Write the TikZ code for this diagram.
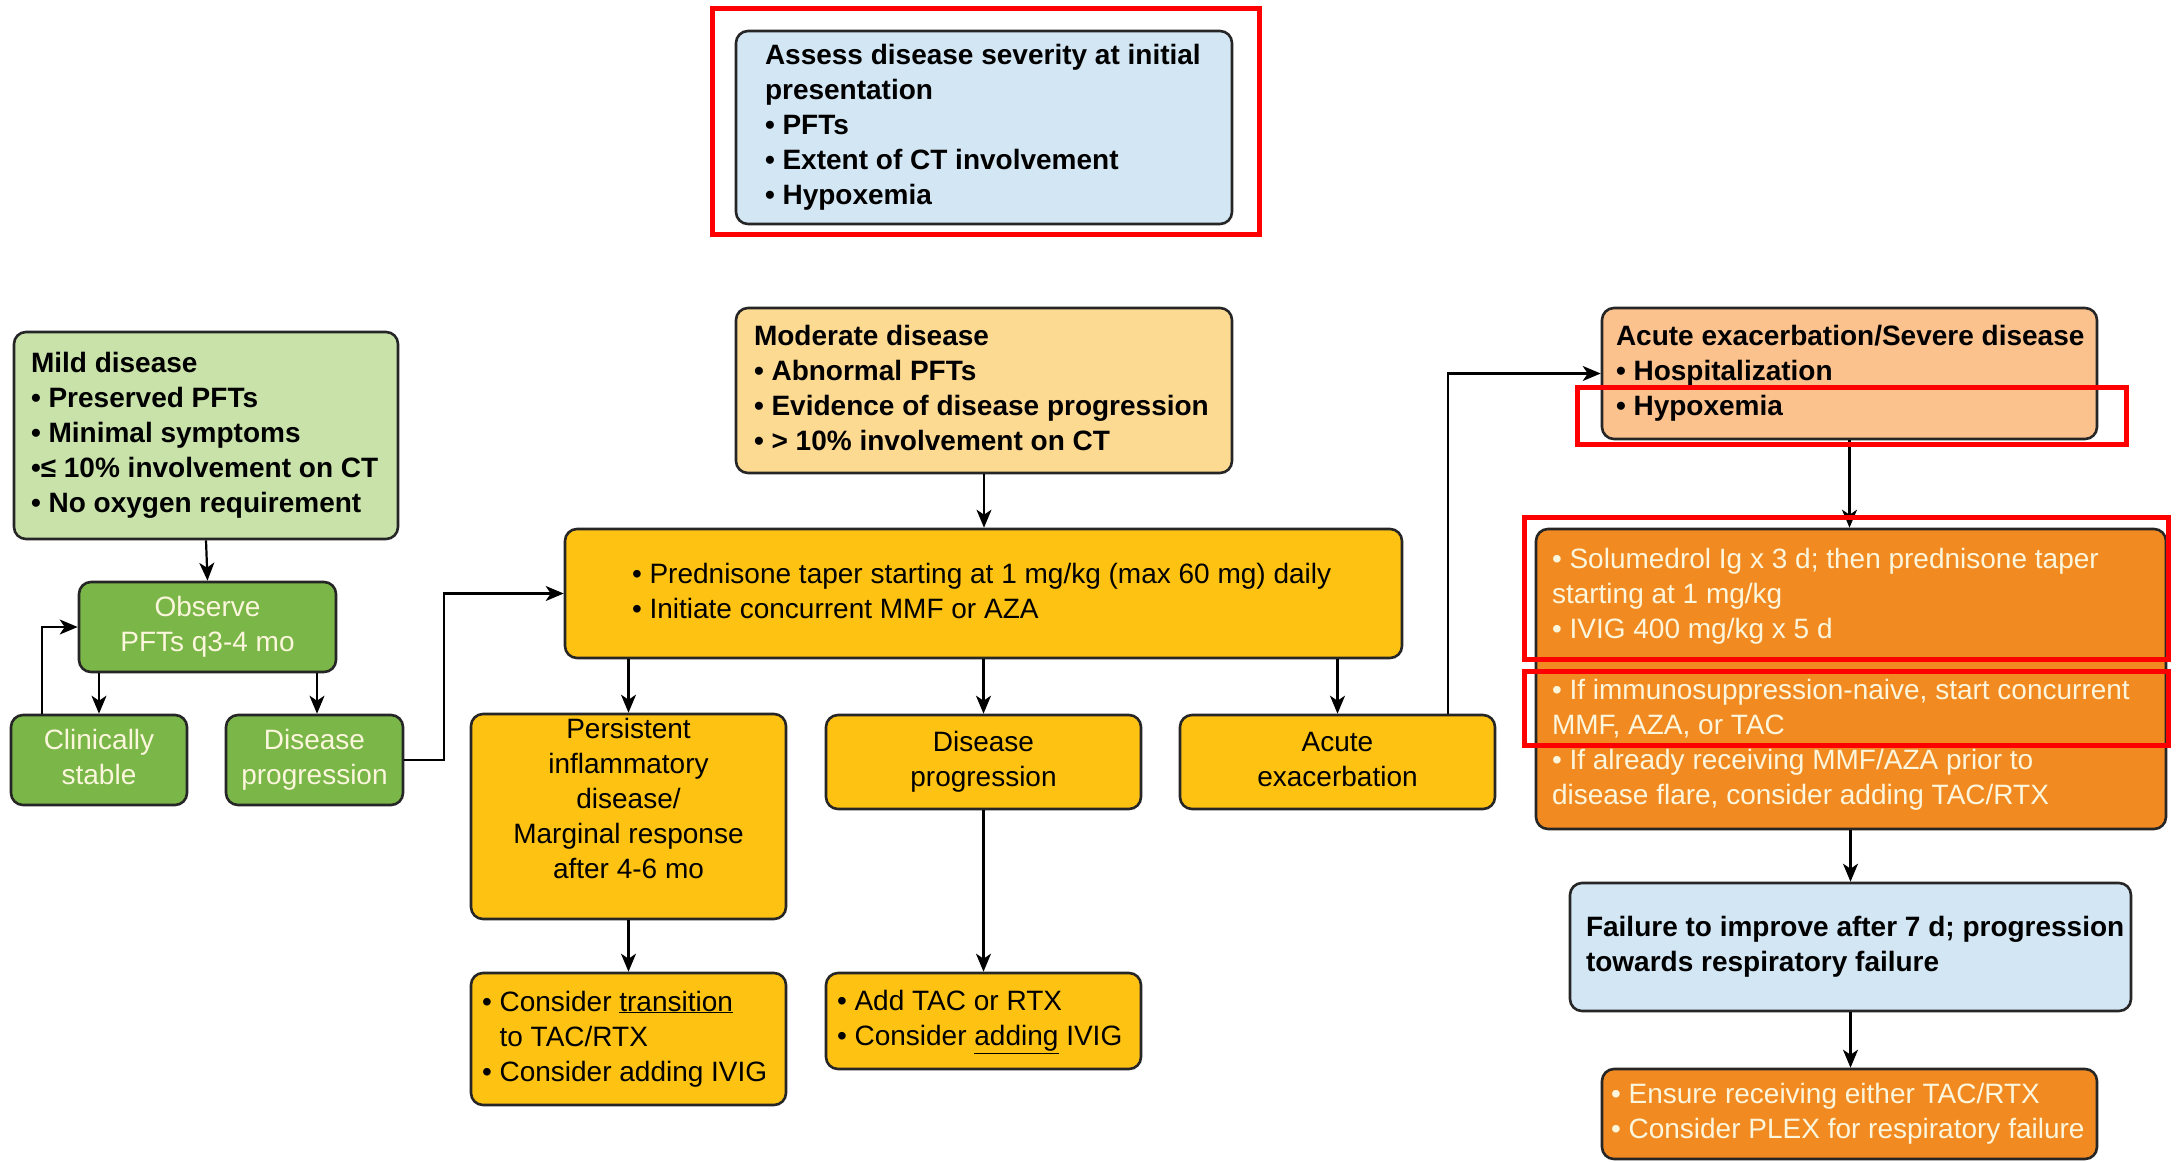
\documentclass[tikz,border=0pt]{standalone}
\usepackage{fontspec}
\setmainfont{Liberation Sans}
\usetikzlibrary{arrows.meta}
\definecolor{lblue}{HTML}{D3E6F4}
\definecolor{lgreen}{HTML}{C8E2AA}
\definecolor{mgreen}{HTML}{7AB648}
\definecolor{lamber}{HTML}{FDDA92}
\definecolor{amber}{HTML}{FEC213}
\definecolor{peach}{HTML}{FCC28E}
\definecolor{orng}{HTML}{F28A22}
\definecolor{cream}{HTML}{FBF6DC}
\newcommand{\lblk}[2]{\makebox[#1][l]{\begin{tabular}{@{}l@{}}#2\end{tabular}}}
\newcommand{\cblk}[1]{\begin{tabular}{@{}c@{}}#1\end{tabular}}
\begin{document}
\begin{tikzpicture}[x=1pt,y=-1pt,
  box/.style={draw=black!85, line width=2.6pt, rounded corners=12pt, inner sep=0pt,
    font=\fontsize{28}{35}\selectfont},
  bbox/.style={box, font=\fontsize{28}{35}\selectfont\bfseries},
  arr/.style={draw=black, line width=2.2pt, -{Stealth[length=18pt,width=15pt,inset=5pt]}},
  redbox/.style={draw=red, line width=5pt}]
\useasboundingbox (0,0) rectangle (2177,1162);

% top
\node[bbox, fill=lblue, minimum width=496pt, minimum height=193pt] (assess) at (984,127.5)
  {\lblk{438pt}{Assess disease severity at initial\\ presentation\\ • PFTs\\ • Extent of CT involvement\\ • Hypoxemia}};

% left column
\node[bbox, fill=lgreen, minimum width=384pt, minimum height=207pt] (mild) at (206,435.5)
  {\lblk{350pt}{Mild disease\\ • Preserved PFTs\\ • Minimal symptoms\\ •≤ 10\% involvement on CT\\ • No oxygen requirement}};
\node[box, fill=mgreen, text=cream, minimum width=257pt, minimum height=90pt] (observe) at (207.5,627)
  {\cblk{Observe\\ PFTs q3-4 mo}};
\node[box, fill=mgreen, text=cream, minimum width=176pt, minimum height=90pt] (stable) at (99,760)
  {\cblk{Clinically\\ stable}};
\node[box, fill=mgreen, text=cream, minimum width=177pt, minimum height=90pt] (dpg) at (314.5,760)
  {\cblk{Disease\\ progression}};

% middle
\node[bbox, fill=lamber, minimum width=496pt, minimum height=165pt] (moderate) at (984,390.5)
  {\lblk{460pt}{Moderate disease\\ • Abnormal PFTs\\ • Evidence of disease progression\\ • > 10\% involvement on CT}};
\node[box, fill=amber, minimum width=837pt, minimum height=129pt] (pred) at (983.5,593.5)
  {\lblk{703pt}{• Prednisone taper starting at 1 mg/kg (max 60 mg) daily\\ • Initiate concurrent MMF or AZA}};
\node[box, fill=amber, minimum width=315pt, minimum height=203pt] (persist) at (628.5,816.5)
  {\cblk{Persistent\\ inflammatory\\ disease/\\ Marginal response\\ after 4-6 mo\\[-5pt] \mbox{}}};
\node[box, fill=amber, minimum width=315pt, minimum height=94pt] (dpy) at (983.5,762)
  {\cblk{Disease\\ progression}};
\node[box, fill=amber, minimum width=315pt, minimum height=94pt] (acute) at (1337.5,762)
  {\cblk{Acute\\ exacerbation}};
\node[box, fill=amber, minimum width=315pt, minimum height=132pt] (transit) at (628.5,1039)
  {\lblk{293pt}{• Consider \underline{transition}\\ \phantom{• }to TAC/RTX\\ • Consider adding IVIG}};
\node[box, fill=amber, minimum width=315pt, minimum height=96pt] (addtac) at (983.5,1021)
  {\lblk{293pt}{• Add TAC or RTX\\ • Consider \underline{adding} IVIG}};

% right column
\node[bbox, fill=peach, minimum width=495pt, minimum height=131pt] (severe) at (1849.5,373.5)
  {\lblk{467pt}{Acute exacerbation/Severe disease\\ • Hospitalization\\ • Hypoxemia}};
\node[box, fill=orng, text=cream, minimum width=630pt, minimum height=300pt] (solu) at (1851,679)
  {\lblk{598pt}{• Solumedrol Ig x 3 d; then prednisone taper\\ starting at 1 mg/kg\\ • IVIG 400 mg/kg x 5 d\\[26pt] • If immunosuppression-naive, start concurrent\\ MMF, AZA, or TAC\\ • If already receiving MMF/AZA prior to\\ disease flare, consider adding TAC/RTX}};
\node[bbox, fill=lblue, minimum width=561pt, minimum height=128pt] (failure) at (1850.5,947)
  {\lblk{529pt}{Failure to improve after 7 d; progression\\ towards respiratory failure}};
\node[box, fill=orng, text=cream, minimum width=495pt, minimum height=90pt] (ensure) at (1849.5,1114)
  {\lblk{477pt}{• Ensure receiving either TAC/RTX\\ • Consider PLEX for respiratory failure}};

% connectors
\coordinate (j1) at (444,0);
\coordinate (j2) at (1448,0);
\draw[arr] (mild.south) -- (observe.north);
\draw[arr] (stable.north |- observe.south) -- (stable.north);
\draw[arr] ([xshift=2.5pt]dpg.north |- observe.south) -- ([xshift=2.5pt]dpg.north);
\draw[arr] ([xshift=-57pt]stable.north) |- (observe.west);
\draw[arr] (dpg.east) -- (dpg.east -| j1) |- (pred.west);
\draw[arr] (moderate.south) -- (moderate.south |- pred.north);
\draw[arr] (persist.north |- pred.south) -- (persist.north);
\draw[arr] (dpy.north |- pred.south) -- (dpy.north);
\draw[arr] (acute.north |- pred.south) -- (acute.north);
\draw[arr] (acute.north -| j2) |- (severe.west);
\draw[arr] (severe.south) -- (severe.south |- solu.north);
\draw[arr] (failure.north |- solu.south) -- (failure.north);
\draw[arr] (failure.south) -- (failure.south |- ensure.north);
\draw[arr] (persist.south) -- (transit.north);
\draw[arr] (dpy.south) -- (addtac.north);

% red highlight frames
\draw[redbox] (712,8) rectangle (1259,234);
\draw[redbox] (1577,387) rectangle (2126,444);
\draw[redbox] (1524,517) rectangle (2168,659);
\draw[redbox] (1524,671) rectangle (2168,745);
\end{tikzpicture}
\end{document}
